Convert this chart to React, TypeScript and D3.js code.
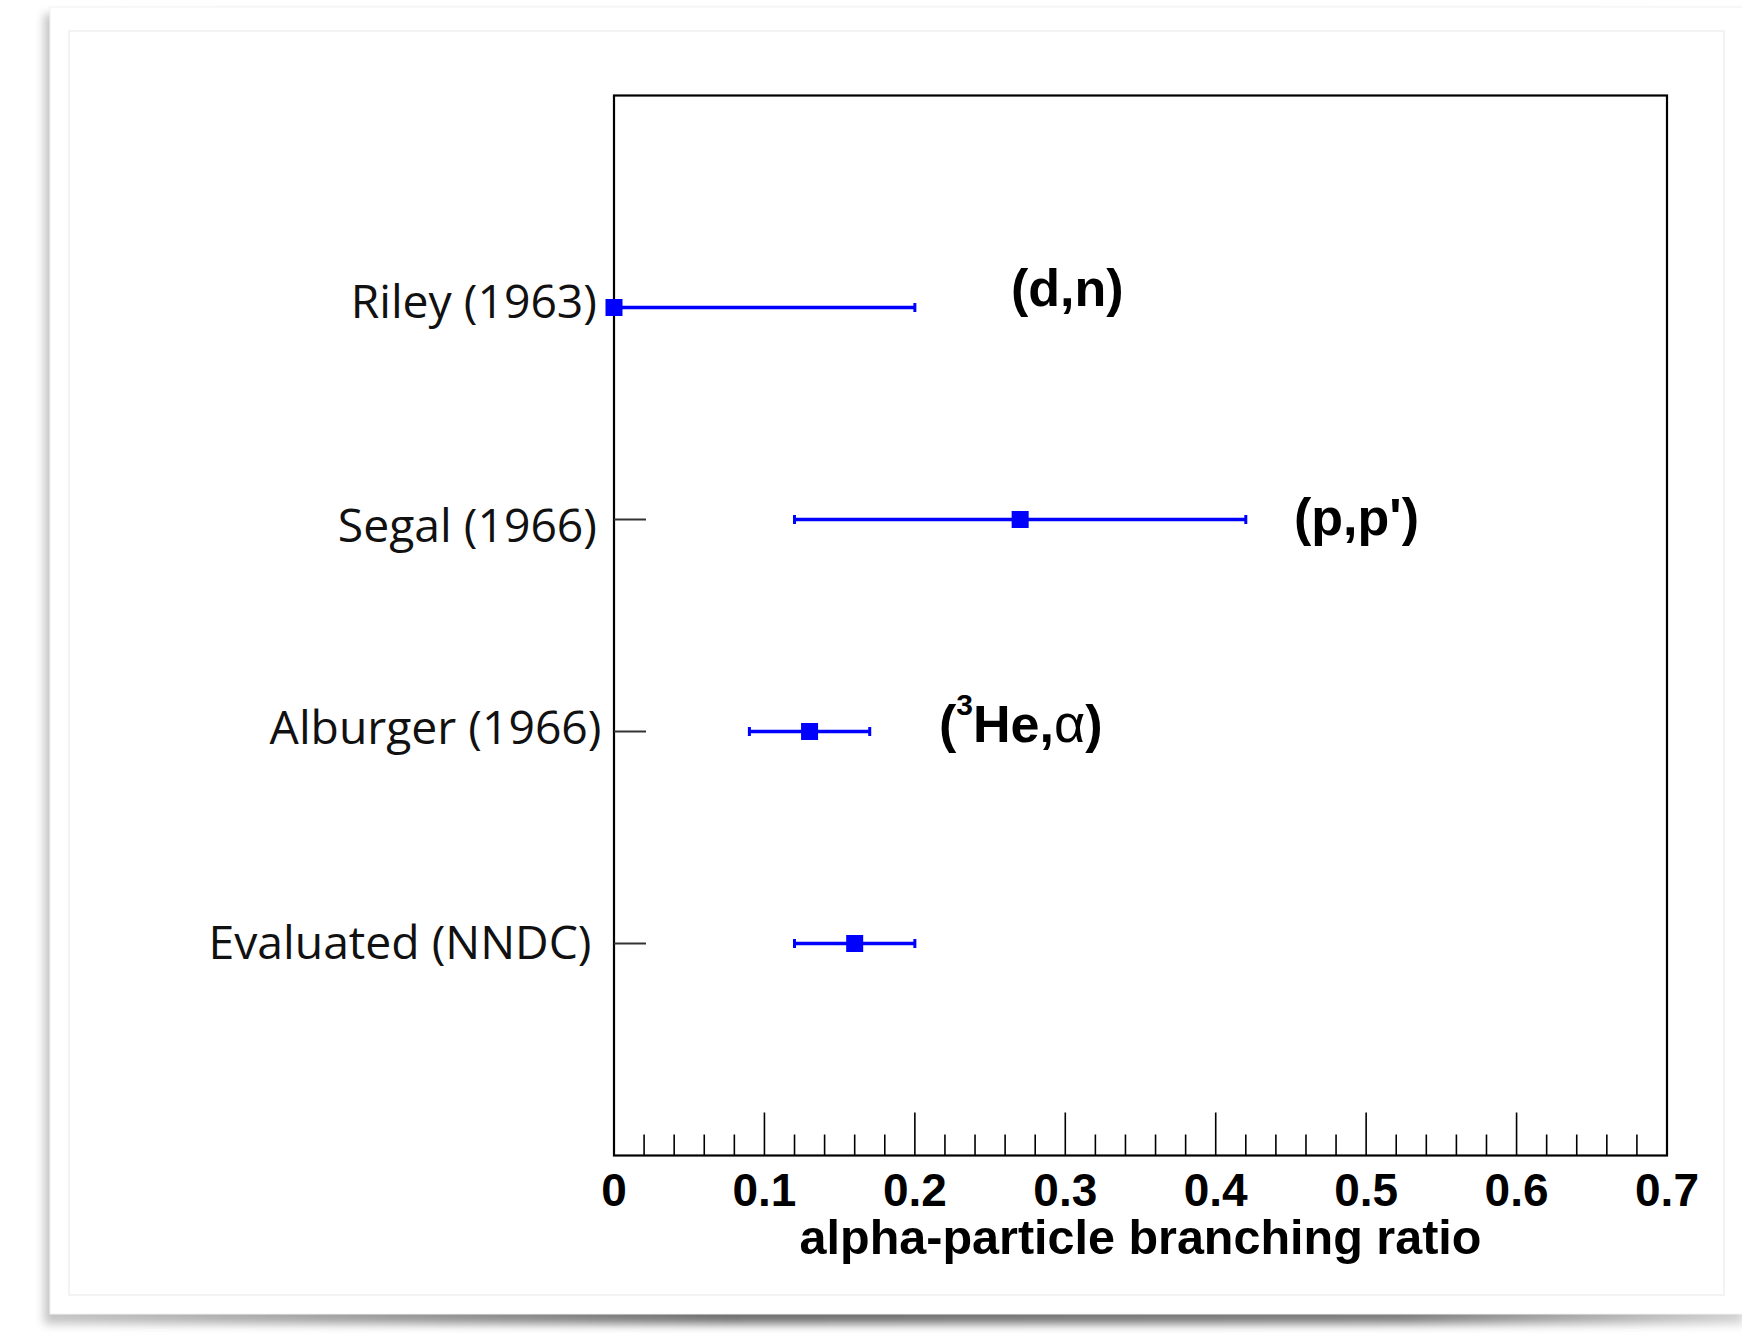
import React from "react";
import * as d3 from "d3";

const categories = ["Riley (1963)", "Segal (1966)", "Alburger (1966)", "Evaluated (NNDC)"];
const catPos = [4, 3, 2, 1];
const values = [0, 0.27, 0.13, 0.16];
const errLow = [0, 0.12, 0.09, 0.12];
const errHigh = [0.2, 0.42, 0.17, 0.2];
const xTickLabels = ["0", "0.1", "0.2", "0.3", "0.4", "0.5", "0.6", "0.7"];
const xTickValues = [0, 0.1, 0.2, 0.3, 0.4, 0.5, 0.6, 0.7];
const annotationLabels = ["(d,n)", "(p,p')"];

const W = 1742;
const H = 1336;
const L = 614, R = 1667, T = 95.5, B = 1155.5;
const labelStyle = [
  { dx: 0, dy: -5.5 },
  { dx: 0, dy: 6.5 },
  { dx: 4.5, dy: -3.5 },
  { dx: -5.5, dy: -1 },
];

export default function App() {
  const x = d3.scaleLinear().domain([0, 0.7]).range([L, R]);
  const y = d3.scaleLinear().domain([0, 5]).range([B, T]);
  const minor = d3.range(0, 0.7001, 0.02).filter((v) => Math.abs(v * 10 - Math.round(v * 10)) > 1e-6);
  const blue = "#0000ff";
  const arial = "'Liberation Sans', Arial, sans-serif";
  return (
    <svg width={W} height={H} style={{ position: "absolute", left: 0, top: 0, background: "#fff" }}>
      <defs>
        <filter id="sh" x="-5%" y="-5%" width="110%" height="110%">
          <feGaussianBlur stdDeviation="5" />
        </filter>
        <linearGradient id="sg" x1="0" x2="1" y1="0" y2="0">
          <stop offset="0" stopColor="#bbb" />
          <stop offset="0.4" stopColor="#555" />
          <stop offset="0.8" stopColor="#666" />
          <stop offset="1" stopColor="#ccc" />
        </linearGradient>
      </defs>
      <rect x={0} y={0} width={W} height={H} fill="#fff" />
      <rect x={44} y={14} width={1700} height={1310} fill="url(#sg)" filter="url(#sh)" opacity={0.85} />
      <rect x={50} y={7} width={1700} height={1307} fill="#fff" stroke="#f2f2f2" strokeWidth={1} />
      <rect x={69} y={31} width={1655} height={1264} fill="#fff" stroke="#efefef" strokeWidth={1.5} />

      <rect x={L} y={T} width={R - L} height={B - T} fill="none" stroke="#000" strokeWidth={2.2} />

      {xTickValues.map((v, i) => (
        <line key={"M" + i} x1={x(v)} x2={x(v)} y1={B} y2={B - 43} stroke="#000" strokeWidth={1.6} />
      ))}
      {minor.map((v, i) => (
        <line key={"m" + i} x1={x(v)} x2={x(v)} y1={B} y2={B - 21} stroke="#000" strokeWidth={1.6} />
      ))}
      {xTickValues.map((v, i) => (
        <text key={"t" + i} x={x(v)} y={1206} textAnchor="middle" fontFamily={arial} fontWeight="bold" fontSize={46} fill="#000">
          {xTickLabels[i]}
        </text>
      ))}
      <text x={(L + R) / 2} y={1254} textAnchor="middle" fontFamily={arial} fontWeight="bold" fontSize={48.5} fill="#000">
        alpha-particle branching ratio
      </text>

      {categories.map((c, i) => (
        <g key={c}>
          <line x1={L} x2={L + 32} y1={y(catPos[i])} y2={y(catPos[i])} stroke="#333" strokeWidth={2} />
          <text
            x={597 + labelStyle[i].dx}
            y={y(catPos[i]) + 16 + labelStyle[i].dy}
            textAnchor="end"
            fontFamily="'Open Sans', sans-serif"
            fontSize={46.3}
            fill="#111"
          >
            {c}
          </text>
        </g>
      ))}

      {categories.map((c, i) => {
        const yy = y(catPos[i]);
        return (
          <g key={"e" + c}>
            <line x1={x(errLow[i])} x2={x(errHigh[i])} y1={yy} y2={yy} stroke={blue} strokeWidth={3.5} />
            <line x1={x(errLow[i])} x2={x(errLow[i])} y1={yy - 4.5} y2={yy + 4.5} stroke={blue} strokeWidth={3} />
            <line x1={x(errHigh[i])} x2={x(errHigh[i])} y1={yy - 4.5} y2={yy + 4.5} stroke={blue} strokeWidth={3} />
            <rect x={x(values[i]) - 8.5} y={yy - 8.5} width={17} height={17} fill={blue} />
          </g>
        );
      })}

      <text x={1011} y={306} fontFamily={arial} fontWeight="bold" fontSize={52} fill="#000">
        {annotationLabels[0]}
      </text>
      <text x={1294} y={535} fontFamily={arial} fontWeight="bold" fontSize={52} fill="#000">
        {annotationLabels[1]}
      </text>
      <text x={939} y={742} fontFamily={arial} fontWeight="bold" fontSize={52} fill="#000">
        <tspan>(</tspan>
        <tspan fontSize={30} dy={-27}>3</tspan>
        <tspan dy={27}>He,</tspan>
        <tspan fontWeight="normal" fontSize={54}>α</tspan>
        <tspan>)</tspan>
      </text>
    </svg>
  );
}
